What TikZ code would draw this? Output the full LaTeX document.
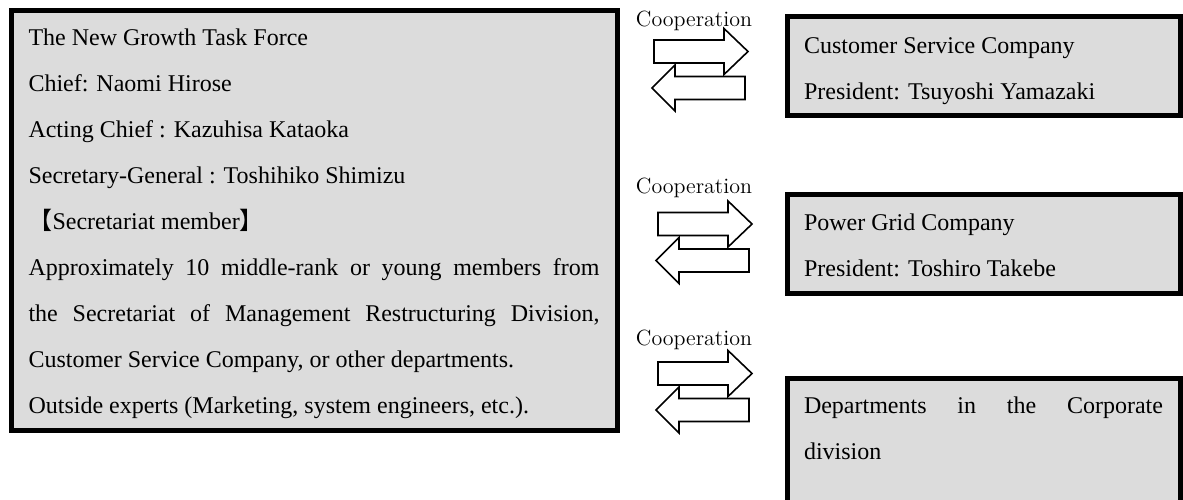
\documentclass[tikz,border=0pt]{standalone}
\usepackage{fontspec}
\newfontfamily\boxfont{Liberation Serif}
\newfontfamily\cjkfont{Noto Sans CJK JP}
\definecolor{panelgrey}{RGB}{220,220,220}

\begin{document}
\begin{tikzpicture}[
    x=0.5pt, y=-0.5pt,
    panel/.style={
        draw,
        line width=2.5pt,
        fill=panelgrey,
        outer sep=0pt,
        inner xsep=8.5pt,
        inner ysep=0pt,
        text width=179.5pt,
        align=justify,
        anchor=north west,
        font=\boxfont\fontsize{12pt}{23pt}\selectfont
    },
    coop label/.style={
        inner sep=0pt,
        anchor=base,
        font=\fontsize{11pt}{13pt}\selectfont
    },
    block arrow/.style={
        draw,
        fill=white,
        line width=0.8pt,
        line join=miter
    },
    coop arrows/.pic={
        % towards the companies
        \draw[block arrow] (-46,-11.5) -- (24,-11.5) -- (24,-23) -- (48,0)
            -- (24,23) -- (24,11.5) -- (-46,11.5) -- cycle;
        % back to the task force
        \draw[block arrow] (45,25) -- (-25,25) -- (-25,13.5) -- (-48,36.5)
            -- (-25,59.5) -- (-25,48) -- (45,48) -- cycle;
    },
    ]
    \useasboundingbox (0,0) rectangle (1183,499);

    % task force
    \node[panel, inner xsep=8.75pt, text width=285.5pt,
        text height=17.5pt, text depth=192.5pt] (task) at (11,10)
        {The New Growth Task Force\par
         Chief: Naomi Hirose\par
         Acting Chief : Kazuhisa Kataoka\par
         Secretary-General : Toshihiko Shimizu\par
         {\cjkfont 【}Secretariat member{\cjkfont 】}\par
         Approximately 10 middle-rank or young members from\linebreak
         the Secretariat of Management Restructuring Division,\linebreak
         Customer Service Company, or other departments.\par
         Outside experts (Marketing, system engineers, etc.).};

    % partners
    \node[panel, text height=18.25pt, text depth=31.25pt] (customer) at (787,16.5)
        {Customer Service Company\par
         President: Tsuyoshi Yamazaki};
    \node[panel, text height=17.75pt, text depth=31.5pt] (grid) at (787,194.5)
        {Power Grid Company\par
         President: Toshiro Takebe};
    \node[panel, text height=17.5pt, text depth=46pt] (corporate) at (787,378)
        {Departments in the Corporate\linebreak
         division};

    % cooperation arrows
    \node[coop label] (coop1) at (694,26) {Cooperation};
    \node[coop label] (coop2) at (694,193) {Cooperation};
    \node[coop label] (coop3) at (694,345) {Cooperation};
    \pic (pair1) at (700,51.5) {coop arrows};
    \pic (pair2) at (704,224) {coop arrows};
    \pic (pair3) at (704,373.5) {coop arrows};
\end{tikzpicture}
\end{document}
